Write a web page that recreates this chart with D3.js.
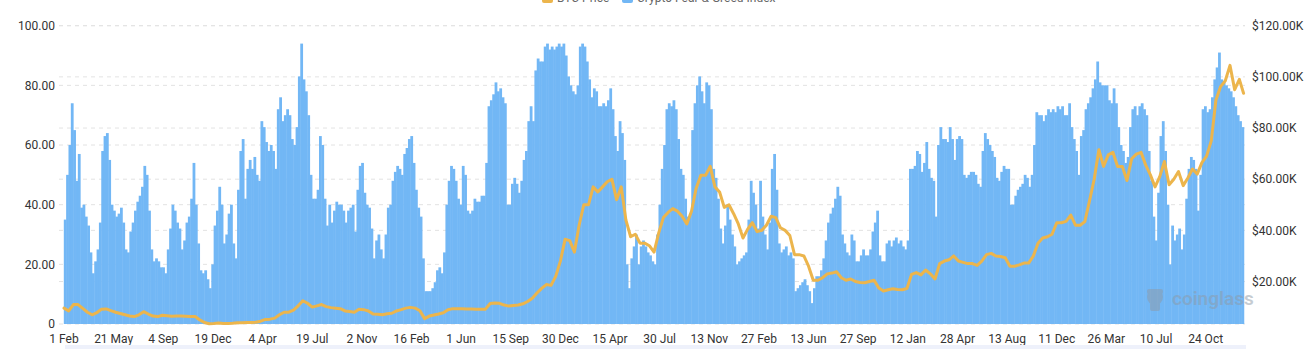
<!DOCTYPE html>
<html><head><meta charset="utf-8">
<script src="https://cdn.jsdelivr.net/npm/d3@7/dist/d3.min.js"></script>
<style>
body{margin:0;background:#fff;}
svg{display:block;font-family:Roboto,"Noto Sans",sans-serif;}
</style>
</head><body>
<svg id="chart" width="1314" height="349"></svg>
<script>
// ---- data ----
const tickLabels = ["1 Feb","21 May","4 Sep","19 Dec","4 Apr","19 Jul","2 Nov","16 Feb","1 Jun","15 Sep","30 Dec","15 Apr","30 Jul","13 Nov","27 Feb","13 Jun","27 Sep","12 Jan","28 Apr","13 Aug","11 Dec","26 Mar","10 Jul","24 Oct"];
const categoriesPerTick = 106;
const totalCategories = 2520;
const fgStep = 5;          // categories per fear & greed sample
const fearGreed = [
35,50,60,74,65,48,57,39,40,36,33,24,17,21,25,34,58,63,64,55,
40,38,36,37,39,34,25,24,31,34,38,41,43,46,53,50,38,25,21,22,
21,19,19,17,25,32,40,38,34,32,25,28,34,36,42,54,40,27,18,17,
18,15,12,20,33,38,46,40,27,30,37,40,27,22,45,58,62,42,52,55,
52,56,50,48,68,66,61,58,60,58,52,72,76,68,70,72,70,62,60,66,
83,94,82,78,70,50,42,42,45,63,60,42,33,40,34,38,41,40,40,38,
34,38,39,40,31,45,53,54,44,40,39,32,22,28,30,25,22,30,39,40,
48,51,53,52,50,57,59,62,63,54,45,39,36,22,11,11,11,12,14,18,
19,17,24,40,48,53,52,48,42,40,53,50,38,37,38,42,41,41,43,43,
54,73,75,77,81,78,79,76,74,40,40,47,49,47,44,48,55,58,68,73,
68,85,89,88,88,93,94,92,93,92,93,94,93,94,90,83,80,78,77,80,
93,94,93,88,82,76,79,78,73,73,74,73,75,79,72,63,58,68,64,55,
20,12,22,26,30,20,26,28,26,24,23,21,20,30,40,52,60,72,74,73,
75,72,62,52,50,42,36,37,65,74,80,83,78,74,81,80,72,52,49,42,
32,27,33,40,35,30,26,20,21,22,23,24,35,48,44,40,32,48,36,30,
25,34,52,57,45,27,24,25,26,23,24,22,11,12,13,14,15,13,11,7,
12,16,16,18,22,28,34,37,39,42,46,43,30,27,24,23,30,28,21,21,
23,25,23,23,25,31,34,38,23,21,21,27,28,26,28,29,27,28,26,25,
28,52,52,53,58,57,51,54,61,52,49,48,36,60,66,62,62,61,66,62,
55,62,63,62,50,49,50,51,51,50,47,46,58,64,62,60,58,56,49,48,
51,53,52,52,40,40,43,45,46,47,50,49,46,50,60,71,70,70,68,70,
72,71,72,71,73,72,73,70,70,74,66,62,58,50,63,65,72,74,76,79,
82,88,81,80,80,80,75,74,79,74,66,60,58,54,56,66,72,73,70,73,
74,72,70,58,48,36,28,44,63,68,58,40,20,33,28,30,32,25,30,42,
52,56,55,52,38,50,72,73,71,72,76,82,86,91,82,81,80,79,78,76,
73,70,68,66
];
const priceStep = 10;      // categories per BTC price sample
const btcPrice = [        // thousand USD
9.6,8.5,11.0,11.0,9.5,8.0,7.0,7.8,9.2,9.3,8.6,8.0,7.5,7.0,6.5,6.3,7.0,8.2,7.3,6.5,
6.3,6.8,6.6,6.4,6.5,6.5,6.4,6.3,6.3,5.0,4.0,3.5,3.6,3.8,3.6,3.6,3.7,3.9,3.9,4.0,
4.0,4.1,4.5,5.2,5.3,5.7,7.0,8.0,8.0,8.8,10.5,12.5,11.5,10.0,10.5,11.0,10.2,9.8,9.6,9.4,
8.5,8.3,8.0,9.2,9.0,8.5,7.3,7.2,7.0,7.4,7.6,8.5,9.0,9.6,9.9,9.6,8.6,5.5,6.5,6.9,
7.3,7.8,9.0,9.4,9.4,9.4,9.3,9.3,9.2,9.2,9.2,11.4,11.6,11.5,10.8,10.4,10.6,10.8,11.3,12.2,
13.5,15.5,17.3,18.8,18.5,22.0,28.0,36.5,36.0,31.5,42.0,50.0,50.0,57.0,55.0,57.0,59.0,60.0,52.0,57.0,
44.0,37.5,38.5,35.0,35.0,34.0,31.5,39.0,45.0,47.0,48.5,47.5,45.5,42.5,47.5,56.5,61.5,61.5,65.0,57.0,
55.0,49.0,50.0,46.5,42.5,37.0,40.5,43.0,39.5,40.0,42.0,45.5,45.0,41.0,40.0,38.0,30.5,30.5,30.0,26.0,
20.5,20.5,21.5,23.0,23.3,23.8,21.5,20.5,21.0,20.0,19.6,19.5,20.0,20.5,17.5,16.3,16.8,17.2,16.9,16.8,
17.3,22.8,23.5,22.6,24.5,23.0,21.0,27.0,28.0,28.5,30.0,28.0,27.5,27.0,27.0,26.3,28.0,30.5,31.0,30.0,
29.8,29.3,26.0,26.0,26.5,27.2,27.2,30.0,35.0,37.0,37.5,38.5,43.0,43.0,43.5,46.0,42.0,42.0,43.4,51.5,
60.0,71.5,65.0,69.5,70.5,65.0,65.0,59.5,68.0,69.8,70.5,65.5,61.7,57.0,61.0,66.9,57.8,60.0,63.0,57.5,
60.5,64.0,62.0,66.5,69.0,75.0,91.0,96.2,98.5,104.5,95.0,99.0,93.6
];
const leftTicks = [0,20,40,60,80,100];
const rightTicks = [20,40,60,80,100,120];
const priceAxisMin = 3.4;
const priceAxisMax = 120;
const seriesNames = ["BTC Price","Crypto Fear & Greed Index"];

// ---- layout ----
const svg = d3.select("#chart");
const plotLeft = 63.8, plotRight = 1243.8, plotTop = 25.7, plotBottom = 324;
const blue = "#72b7f5", orange = "#ecb54c";

const x = d3.scaleLinear().domain([0, totalCategories]).range([plotLeft, plotRight]);
const yL = d3.scaleLinear().domain([0, 100]).range([plotBottom, plotTop]);
const yR = d3.scaleLinear().domain([priceAxisMin, priceAxisMax]).range([plotBottom, plotTop]);

// grid lines
const grid = svg.append("g");
leftTicks.forEach(t => grid.append("line")
  .attr("x1", 59).attr("x2", 1245).attr("y1", yL(t)).attr("y2", yL(t))
  .attr("stroke", "#e3e3e3").attr("stroke-dasharray", "4,4"));
rightTicks.forEach(t => grid.append("line")
  .attr("x1", 59).attr("x2", 1245).attr("y1", yR(t)).attr("y2", yR(t))
  .attr("stroke", "#e3e3e3").attr("stroke-dasharray", "4,4"));

// bars
svg.append("g").selectAll("rect").data(fearGreed).join("rect")
  .attr("x", (d, i) => x(i * fgStep))
  .attr("width", (d, i) => x((i + 1) * fgStep) - x(i * fgStep) + 0.45)
  .attr("y", d => yL(d))
  .attr("height", d => yL(0) - yL(d))
  .attr("fill", blue);

// watermark
const wm = svg.append("g").attr("opacity", 0.5);
wm.append("circle").attr("cx", 1155).attr("cy", 297).attr("r", 8).attr("fill", "#8e9aa6");
wm.append("rect").attr("x", 1147).attr("y", 289).attr("width", 16).attr("height", 5).attr("rx", 2).attr("fill", "#8e9aa6");
wm.append("rect").attr("x", 1150).attr("y", 302).attr("width", 10).attr("height", 9).attr("rx", 2).attr("fill", "#8e9aa6");
wm.append("text").attr("x", 1172).attr("y", 305).attr("font-size", 19).attr("font-weight", 600)
  .attr("fill", "#8e9aa6").text("coinglass");

// price line
const line = d3.line()
  .x((d, i) => x(Math.min(i * priceStep, totalCategories - 1) + 0.5))
  .y(d => yR(d));
svg.append("path").datum(btcPrice).attr("d", line)
  .attr("fill", "none").attr("stroke", orange).attr("stroke-width", 3)
  .attr("stroke-linejoin", "round").attr("stroke-linecap", "round");

// left axis labels
svg.append("g").selectAll("text").data(leftTicks).join("text")
  .attr("x", 55).attr("y", d => yL(d)).attr("dy", "0.35em")
  .attr("text-anchor", "end").attr("font-size", 12).attr("fill", "#333")
  .text(d => d === 0 ? "0" : d3.format(".2f")(d));

// right axis labels
svg.append("g").selectAll("text").data(rightTicks).join("text")
  .attr("x", 1252).attr("y", d => yR(d)).attr("dy", "0.35em")
  .attr("text-anchor", "start").attr("font-size", 12).attr("fill", "#333")
  .text(d => "$" + d3.format(".2f")(d) + "K");

// x axis labels
svg.append("g").selectAll("text").data(tickLabels).join("text")
  .attr("x", (d, i) => x(i * categoriesPerTick + 0.5)).attr("y", 343)
  .attr("text-anchor", "middle").attr("font-size", 12).attr("fill", "#333")
  .text(d => d);

// slider strip at bottom
svg.append("rect").attr("x", 65).attr("y", 345).attr("width", 1181).attr("height", 6)
  .attr("fill", "#eef1fb");

// legend (partly cut off at the top edge, as in the reference)
const lg = svg.append("g");
lg.append("rect").attr("x", 542).attr("y", -8).attr("width", 11).attr("height", 11).attr("rx", 2).attr("fill", orange);
lg.append("text").attr("x", 557).attr("y", 2).attr("font-size", 12).attr("fill", "#666").text(seriesNames[0]);
lg.append("rect").attr("x", 622).attr("y", -8).attr("width", 11).attr("height", 11).attr("rx", 2).attr("fill", blue);
lg.append("text").attr("x", 637).attr("y", 2).attr("font-size", 12).attr("fill", "#666").text(seriesNames[1]);
</script>
</body></html>
